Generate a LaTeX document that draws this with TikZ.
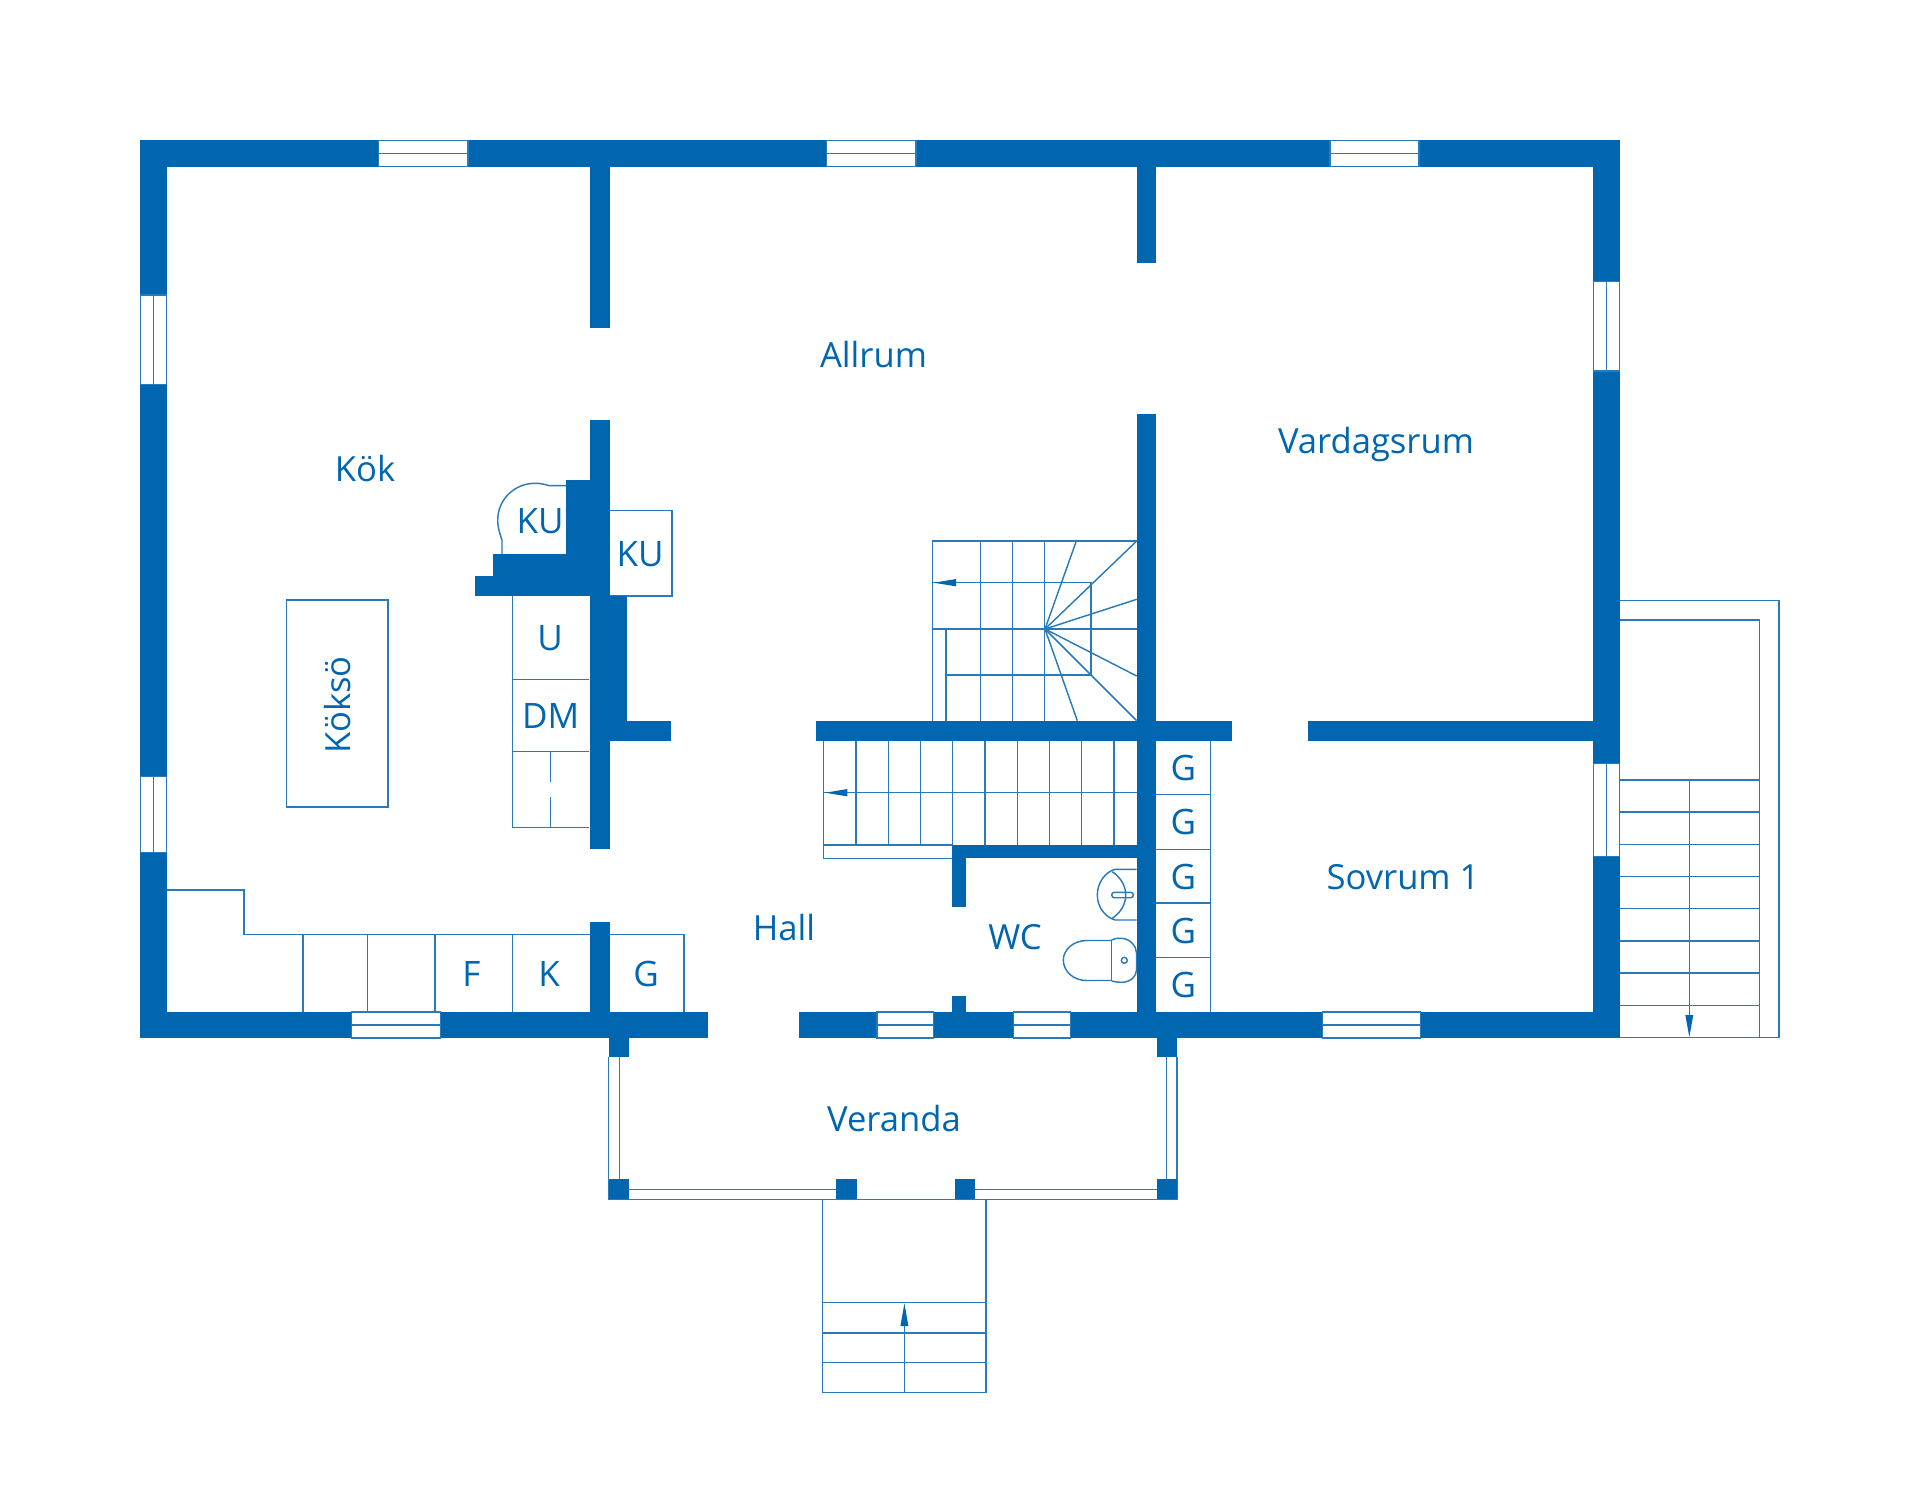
\documentclass[tikz,border=0pt]{standalone}
\usepackage{fontspec}
\setmainfont{Open Sans}
\definecolor{wallc}{HTML}{0066B0}
\definecolor{linec}{HTML}{2A7ABA}
\tikzset{
  x=0.5pt,y=-0.5pt,
  wallfill/.style={fill=wallc,draw=none},
  thin line/.style={draw=linec,line width=0.72pt},
  winbox/.style={fill=white,draw=linec,line width=0.7pt},
  tip/.style={fill=wallc,draw=none},
  room/.style={text=wallc,font=\fontsize{17.3}{20}\selectfont,inner sep=0pt},
  unit/.style={text=wallc,font=\fontsize{17.5}{20}\selectfont,inner sep=0pt}
}
\newcommand{\wl}[4]{\fill[wallfill] (#1,#2) rectangle (#3,#4);}
\newcommand{\hwin}[4]{\fill[white] (#1,#2) rectangle (#3,#4);
  \draw[winbox] (#1,#2) rectangle (#3,#4);
  \draw[thin line] (#1,{(#2+#4)/2}) -- (#3,{(#2+#4)/2});}
\newcommand{\vwin}[4]{\fill[white] (#1,#2) rectangle (#3,#4);
  \draw[winbox] (#1,#2) rectangle (#3,#4);
  \draw[thin line] ({(#1+#3)/2},#2) -- ({(#1+#3)/2},#4);}
\begin{document}
\begin{tikzpicture}
\useasboundingbox (0,0) rectangle (1920,1506);
\fill[white] (0,0) rectangle (1920,1506);

% --- thin fittings below the walls
% Kitchen island
\draw[thin line] (286.5,600) rectangle (388,807);
% Kitchen KU curved
\draw[thin line] (566.3,485.7) -- (549.3,485.7) .. controls (544,484) and (540,483.3) .. (535,483.3)
  .. controls (514,483.3) and (497.7,500) .. (497.7,520) .. controls (497.7,528) and (500,534) .. (502,540) -- (502,554);
% KU right box
\draw[thin line] (609,510.3) -- (672,510.3) -- (672,596) -- (609,596);
% U / DM column
\draw[thin line] (512.3,596) -- (512.3,827.3) -- (589,827.3);
\draw[thin line] (512.3,679.3) -- (589,679.3);
\draw[thin line] (512.3,751.7) -- (589,751.7);
\draw[thin line] (550.7,751.7) -- (550.7,781.7);
\draw[thin line] (550.7,797.3) -- (550.7,827.3);
% Bottom counter
\draw[thin line] (167,890) -- (244,890) -- (244,934.3) -- (683.8,934.3) -- (683.8,1012);
\foreach \x in {303,367.7,435,512.3}{\draw[thin line] (\x,934.3) -- (\x,1012);}
% Upper stair
\draw[thin line] (932.7,720.7) -- (932.7,541) -- (1136.7,541);
\foreach \x in {980.3,1012.3,1044.7}{\draw[thin line] (\x,541) -- (\x,720.7);}
\draw[thin line] (932.7,582.7) -- (1091,582.7) -- (1091,675) -- (946,675);
\draw[thin line] (946,629) -- (946,720.7);
\draw[thin line] (932.7,629) -- (1136.7,629);
\coordinate (hub) at (1045,629);
\foreach \px/\py in {1076.3/541,1136.7/541,1136.7/599.3,1136.7/676,1136.7/720.7,1077.3/720.7}{\draw[thin line] (hub) -- (\px,\py);}
\fill[tip] (934,582.7) -- (956,579) -- (956,586.4) -- cycle;
% Lower stair
\draw[thin line] (823.7,741) -- (823.7,858.3) -- (952.3,858.3);
\draw[thin line] (823.7,845) -- (952.3,845);
\draw[thin line] (823.7,792.7) -- (1136.7,792.7);
\foreach \x in {856,888.3,920.7,952.7,985,1017.3,1049.3,1081.7,1114}{\draw[thin line] (\x,741) -- (\x,845);}
\fill[tip] (825.3,792.7) -- (847.3,789) -- (847.3,796.4) -- cycle;
% G cabinets
\draw[thin line] (1210.7,741) -- (1210.7,1012);
\foreach \y in {794.7,849.3,903,957.7}{\draw[thin line] (1156.3,\y) -- (1210.7,\y);}
% Sink
\draw[thin line] (1136.7,869.3) -- (1115,869.3) .. controls (1105,872) and (1097.3,883) .. (1097.3,895)
  .. controls (1097.3,907) and (1105,917) .. (1115,920) -- (1136.7,920);
\draw[thin line] (1112.3,871.7) .. controls (1120,877) and (1125.7,885) .. (1125.7,895)
  .. controls (1125.7,905) and (1120,913) .. (1112.3,918.3);
\draw[thin line,rounded corners=1.3pt] (1111.7,892.3) rectangle (1133.3,897.7);
% Toilet
\draw[thin line] (1111.7,940) -- (1111.7,981);
\draw[thin line] (1111.7,940) .. controls (1116,938) and (1119,938) .. (1122,938.3)
  .. controls (1131,939) and (1136.5,947) .. (1136.5,953) -- (1136.5,970)
  .. controls (1136.5,976) and (1131,982) .. (1122,982.3) .. controls (1119,982.5) and (1116,982) .. (1111.7,981);
\draw[thin line] (1111.7,940.5) -- (1086.7,940.5) .. controls (1073,940.5) and (1063.3,950) .. (1063.3,960)
  .. controls (1063.3,971) and (1073,980.5) .. (1086.7,980.5) -- (1111.7,980.5);
\draw[thin line] (1124.3,960.3) circle [radius=1.5pt];
% Veranda
\draw[thin line] (608.6,1057) -- (608.6,1199.3) -- (1176.8,1199.3) -- (1176.8,1057);
\draw[thin line] (619.3,1057) -- (619.3,1180);
\draw[thin line] (1166.5,1057) -- (1166.5,1180);
\draw[thin line] (629,1189.3) -- (836.3,1189.3);
\draw[thin line] (975,1189.3) -- (1156.6,1189.3);
% Front steps
\draw[thin line] (822.5,1199.3) -- (822.5,1392.7) -- (985.8,1392.7) -- (985.8,1199.3);
\foreach \y in {1302.7,1333,1362.7}{\draw[thin line] (822.5,\y) -- (985.8,\y);}
\draw[thin line] (904.4,1392.7) -- (904.4,1310);
\fill[tip] (904.4,1303.3) -- (908.4,1326) -- (900.4,1326) -- cycle;
% Side stair
\draw[thin line] (1620,600.7) -- (1779,600.7) -- (1779,1037.7) -- (1620,1037.7);
\draw[thin line] (1620,620) -- (1759.7,620) -- (1759.7,1037.7);
\foreach \y in {780,812,844.3,876.3,908.7,941,973,1005.3}{\draw[thin line] (1620,\y) -- (1759.7,\y);}
\draw[thin line] (1689.3,780) -- (1689.3,1020);
\fill[tip] (1689.3,1037) -- (1685.3,1015) -- (1693.3,1015) -- cycle;

% --- walls
\wl{140}{140}{1620}{167}
\wl{140}{140}{167}{1038.4}
\wl{1593.3}{140}{1620}{1038.4}
\wl{140}{1011.7}{707.6}{1038.4}
\wl{799.2}{1011.7}{1620}{1038.4}
\wl{589.5}{167}{609.5}{328}
\wl{589.5}{419.5}{609.5}{848.7}
\wl{566.3}{480}{589.5}{554}
\wl{493.3}{554}{609.5}{576}
\wl{474.7}{576}{609.5}{596}
\wl{589.5}{596}{626.7}{720.7}
\wl{589.5}{720.7}{671.3}{741}
\wl{589.5}{921.7}{609.5}{1012}
\wl{1136.7}{167}{1156.3}{263.3}
\wl{1136.7}{414}{1156.3}{1012}
\wl{816.3}{720.7}{1232.3}{741}
\wl{1307.8}{720.7}{1593.3}{741}
\wl{952.3}{845}{1136.7}{858.3}
\wl{952.3}{845}{966}{907.3}
\wl{952.3}{996}{966}{1012}
% posts
\wl{608.6}{1038}{629}{1057.3}
\wl{1156.6}{1038}{1176.8}{1057.3}
\wl{608.6}{1179.3}{629}{1199.3}
\wl{836.3}{1179.3}{857}{1199.3}
\wl{954.6}{1179.3}{975}{1199.3}
\wl{1156.6}{1179.3}{1176.8}{1199.3}

% --- windows
\hwin{378.4}{140.5}{467.8}{166.5}
\hwin{826.5}{140.5}{916}{166.5}
\hwin{1330}{140.5}{1419}{166.5}
\vwin{140.5}{295}{166.5}{384.5}
\vwin{140.5}{776.3}{166.5}{852.2}
\vwin{1593.7}{281.6}{1619.5}{371}
\vwin{1593.7}{763.7}{1619.5}{856.7}
\hwin{351.6}{1012}{440.4}{1038}
\hwin{877}{1012}{933.3}{1038}
\hwin{1013.3}{1012}{1070.3}{1038}
\hwin{1322.5}{1012}{1420.4}{1038}

% --- labels
\node[room] (allrum) at (873.5,355) {Allrum};
\node[room] (vardagsrum) at (1376,444) {Vardagsrum};
\node[room] (kok) at (365,469) {Kök};
\node[room,rotate=90] (koksob) at (338,705) {Köksö};
\node[room] (hall) at (784,928) {Hall};
\node[room] (wc) at (1015,937) {WC};
\node[room] (sovrum) at (1403,877) {Sovrum 1};
\node[room] (veranda) at (894,1119) {Veranda};
\node[unit] (kua) at (540,521) {KU};
\node[unit] (kub) at (640,554) {KU};
\node[unit] (u) at (550,638) {U};
\node[unit] (dm) at (550.7,716) {DM};
\node[unit] (f) at (471.5,974) {F};
\node[unit] (k) at (549,974) {K};
\node[unit] (ga) at (646,974) {G};
\node[unit] (g1) at (1183.3,768) {G};
\node[unit] (g2) at (1183.3,822) {G};
\node[unit] (g3) at (1183.3,877) {G};
\node[unit] (g4) at (1183.3,931) {G};
\node[unit] (g5) at (1183.3,985) {G};
\end{tikzpicture}
\end{document}
